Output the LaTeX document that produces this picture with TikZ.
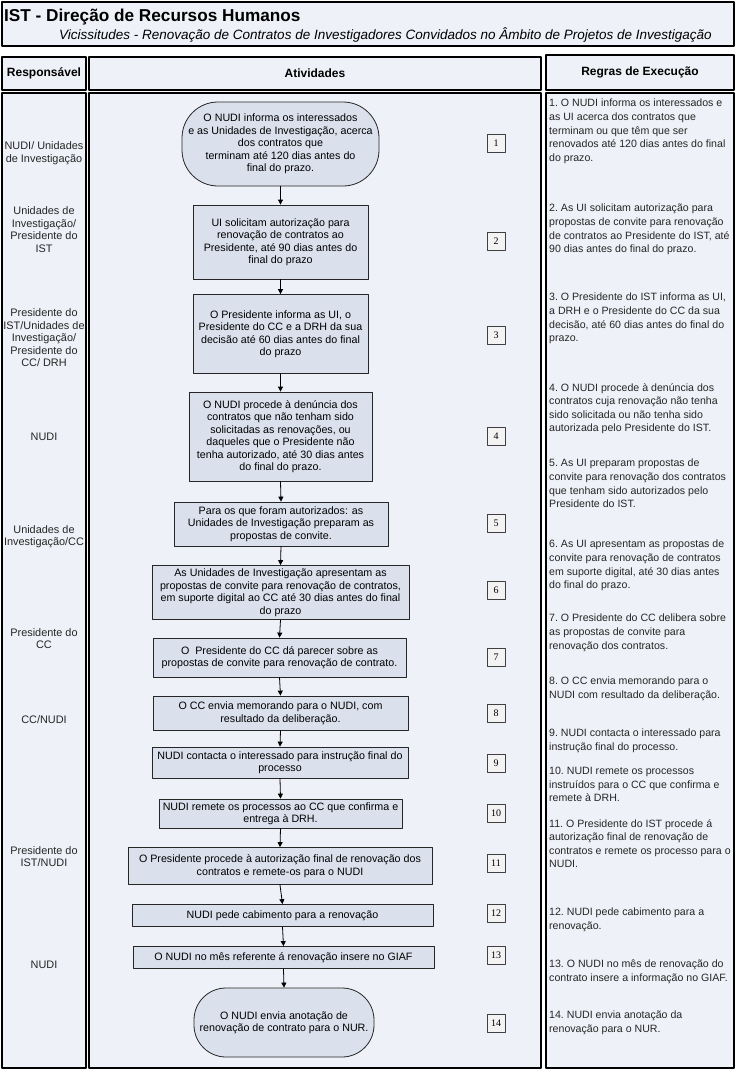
\documentclass[tikz,border=0pt]{standalone}
\usepackage{fontspec}
\setmainfont{Liberation Sans}
\newfontfamily\numfont{Liberation Serif}
\usetikzlibrary{arrows.meta}
\usetikzlibrary{positioning}
\definecolor{panelfill}{RGB}{238,241,247}
\definecolor{boxfill}{RGB}{218,225,237}
\definecolor{numfill}{RGB}{243,243,243}

\begin{document}
\begin{tikzpicture}[line cap=round,line join=round,x=1pt,y=-1pt,
  panel/.style={draw=black,line width=1.2pt,fill=panelfill},
  activity/.style={draw=black!85,line width=0.8pt,fill=boxfill,align=center,inner sep=1pt,font=\fontsize{10.7}{12.5}\selectfont},
  terminal/.style={activity,rounded corners=36pt},
  stepnum/.style={draw=black!75,line width=0.6pt,fill=numfill,minimum width=18pt,minimum height=18pt,inner sep=0pt,font=\numfont\fontsize{10}{10}\selectfont},
  who/.style={align=center,text=black!85,font=\fontsize{10.9}{12.5}\selectfont},
  ruletext/.style={anchor=north west,align=left,inner sep=0pt,text=black!85,font=\frenchspacing\fontsize{10.6}{13.6}\selectfont},
  colhead/.style={font=\bfseries\fontsize{12}{12}\selectfont},
  flow/.style={-{Triangle[length=5pt,width=5pt]},line width=0.8pt}]
\useasboundingbox (0,0) rectangle (736,1074);
\fill[white] (0,0) rectangle (736,1074);
\draw[panel] (2,2) rectangle (734,46);
\node[anchor=west,inner sep=0pt,font=\bfseries\fontsize{17.2}{17.2}\selectfont] (title) at (4,17) {IST - Direção de Recursos Humanos};
\node[anchor=east,inner sep=0pt,font=\itshape\fontsize{13.5}{13.5}\selectfont] (subtitle) at (712,35) {Vicissitudes - Renovação de Contratos de Investigadores Convidados no Âmbito de Projetos de Investigação};
\draw[panel] (2,57) rectangle (86,90);
\draw[panel] (89,57) rectangle (541,90);
\draw[panel] (546,55) rectangle (734,90);
\node[colhead] (hresp) at (44,73.5) {Responsável};
\node[colhead] (hativ) at (315,73.5) {Atividades};
\node[colhead] (hregras) at (640,72.5) {Regras de Execução};
\draw[panel] (2,93) rectangle (86,1068);
\draw[panel] (89,93) rectangle (541,1068);
\draw[panel] (546,93) rectangle (734,1068);
\node[who] (r1) at (44,153) {NUDI/ Unidades\\de Investigação};
\node[who] (r2) at (44,229.5) {Unidades de\\Investigação/\\Presidente do\\IST};
\node[who] (r3) at (44,338) {Presidente do\\IST/Unidades de\\Investigação/\\Presidente do\\CC/ DRH};
\node[who] (r4) at (44,437) {NUDI};
\node[who] (r5) at (44,536.5) {Unidades de\\Investigação/CC};
\node[who] (r6) at (44,638.5) {Presidente do\\CC};
\node[who] (r7) at (44,720) {CC/NUDI};
\node[who] (r8) at (44,856.5) {Presidente do\\IST/NUDI};
\node[who] (r9) at (44,965) {NUDI};
\node[terminal,minimum width=197pt,minimum height=84pt] (a1) at (280.5,144) {O NUDI informa os interessados\\e as Unidades de Investigação, acerca\\dos contratos que\\terminam até 120 dias antes do\\final do prazo.};
\node[activity,minimum width=175pt,minimum height=74pt] (a2) at (280.5,242) {UI solicitam autorização para\\renovação de contratos ao\\Presidente, até 90 dias antes do\\final do prazo};
\node[activity,minimum width=175pt,minimum height=79pt] (a3) at (280.5,334) {O Presidente informa as UI, o\\Presidente do CC e a DRH da sua\\decisão até 60 dias antes do final\\do prazo};
\node[activity,minimum width=183pt,minimum height=89pt] (a4) at (280.5,436.5) {O NUDI procede à denúncia dos\\contratos que não tenham sido\\solicitadas as renovações, ou\\daqueles que o Presidente não\\tenha autorizado, até 30 dias antes\\do final do prazo.};
\node[activity,minimum width=214pt,minimum height=44pt] (a5) at (281,524) {Para os que foram autorizados: as\\Unidades de Investigação preparam as\\propostas de convite.};
\node[activity,minimum width=257pt,minimum height=54pt] (a6) at (280.5,592.5) {As Unidades de Investigação apresentam as\\propostas de convite para renovação de contratos,\\em suporte digital ao CC até 30 dias antes do final\\do prazo};
\node[activity,minimum width=253pt,minimum height=39pt] (a7) at (279.5,657.5) {O\ \ Presidente do CC dá parecer sobre as\\propostas de convite para renovação de contrato.};
\node[activity,minimum width=255pt,minimum height=34pt] (a8) at (280.5,713) {O CC envia memorando para o NUDI, com\\resultado da deliberação.};
\node[activity,minimum width=256pt,minimum height=31pt] (a9) at (280,762.5) {NUDI contacta o interessado para instrução final do\\processo};
\node[activity,minimum width=243pt,minimum height=29pt] (a10) at (280.5,813.5) {NUDI remete os processos ao CC que confirma e\\entrega à DRH.};
\node[activity,minimum width=304pt,minimum height=37pt] (a11) at (280,866) {O Presidente procede à autorização final de renovação dos\\contratos e remete-os para o NUDI};
\node[activity,minimum width=301pt,minimum height=22pt] (a12) at (282.5,915.5) {NUDI pede cabimento para a renovação};
\node[activity,minimum width=301pt,minimum height=22pt] (a13) at (283.5,957.5) {O NUDI no mês referente á renovação insere no GIAF};
\node[terminal,rounded corners=32pt,minimum width=180pt,minimum height=69pt] (a14) at (284,1022.5) {O NUDI envia anotação de\\renovação de contrato para o NUR.};
\foreach \a/\b in {a1/a2,a2/a3,a3/a4,a4/a5,a5/a6,a6/a7,a7/a8,a8/a9,a9/a10,a10/a11,a11/a12,a12/a13,a13/a14}
\draw[flow] (\a.south) -- (\b.north);
\foreach \n/\y in {1/143,2/241,3/335,4/436,5/523,6/590,7/657,8/713,9/763,10/813,11/863,12/913,13/955,14/1023}
\node[stepnum] (n\n) at (496,\y) {\n};
\node[ruletext] (g1) at (549,99) {1. O NUDI informa os interessados e\\as UI acerca dos contratos que\\terminam ou que têm que ser\\renovados até 120 dias antes do final\\do prazo.};
\node[ruletext] (g2) at (549,204) {2. As UI solicitam autorização para\\propostas de convite para renovação\\de contratos ao Presidente do IST, até\\90 dias antes do final do prazo.};
\node[ruletext] (g3) at (549,293) {3. O Presidente do IST informa as UI,\\a DRH e o Presidente do CC da sua\\decisão, até 60 dias antes do final do\\prazo.};
\node[ruletext] (g4) at (549,383) {4. O NUDI procede à denúncia dos\\contratos cuja renovação não tenha\\sido solicitada ou não tenha sido\\autorizada pelo Presidente do IST.};
\node[ruletext] (g5) at (549,459) {5. As UI preparam propostas de\\convite para renovação dos contratos\\que tenham sido autorizados pelo\\Presidente do IST.};
\node[ruletext] (g6) at (549,540) {6. As UI apresentam as propostas de\\convite para renovação de contratos\\em suporte digital, até 30 dias antes\\do final do prazo.};
\node[ruletext] (g7) at (549,614) {7. O Presidente do CC delibera sobre\\as propostas de convite para\\renovação dos contratos.};
\node[ruletext] (g8) at (549,677) {8. O CC envia memorando para o\\NUDI com resultado da deliberação.};
\node[ruletext] (g9) at (549,729) {9. NUDI contacta o interessado para\\instrução final do processo.};
\node[ruletext] (g10) at (549,767) {10. NUDI remete os processos\\instruídos para o CC que confirma e\\remete à DRH.};
\node[ruletext] (g11) at (549,819) {11. O Presidente do IST procede á\\autorização final de renovação de\\contratos e remete os processo para o\\NUDI.};
\node[ruletext] (g12) at (549,908) {12. NUDI pede cabimento para a\\renovação.};
\node[ruletext] (g13) at (549,960) {13. O NUDI no mês de renovação do\\contrato insere a informação no GIAF.};
\node[ruletext] (g14) at (549,1011) {14. NUDI envia anotação da\\renovação para o NUR.};
\end{tikzpicture}
\end{document}
